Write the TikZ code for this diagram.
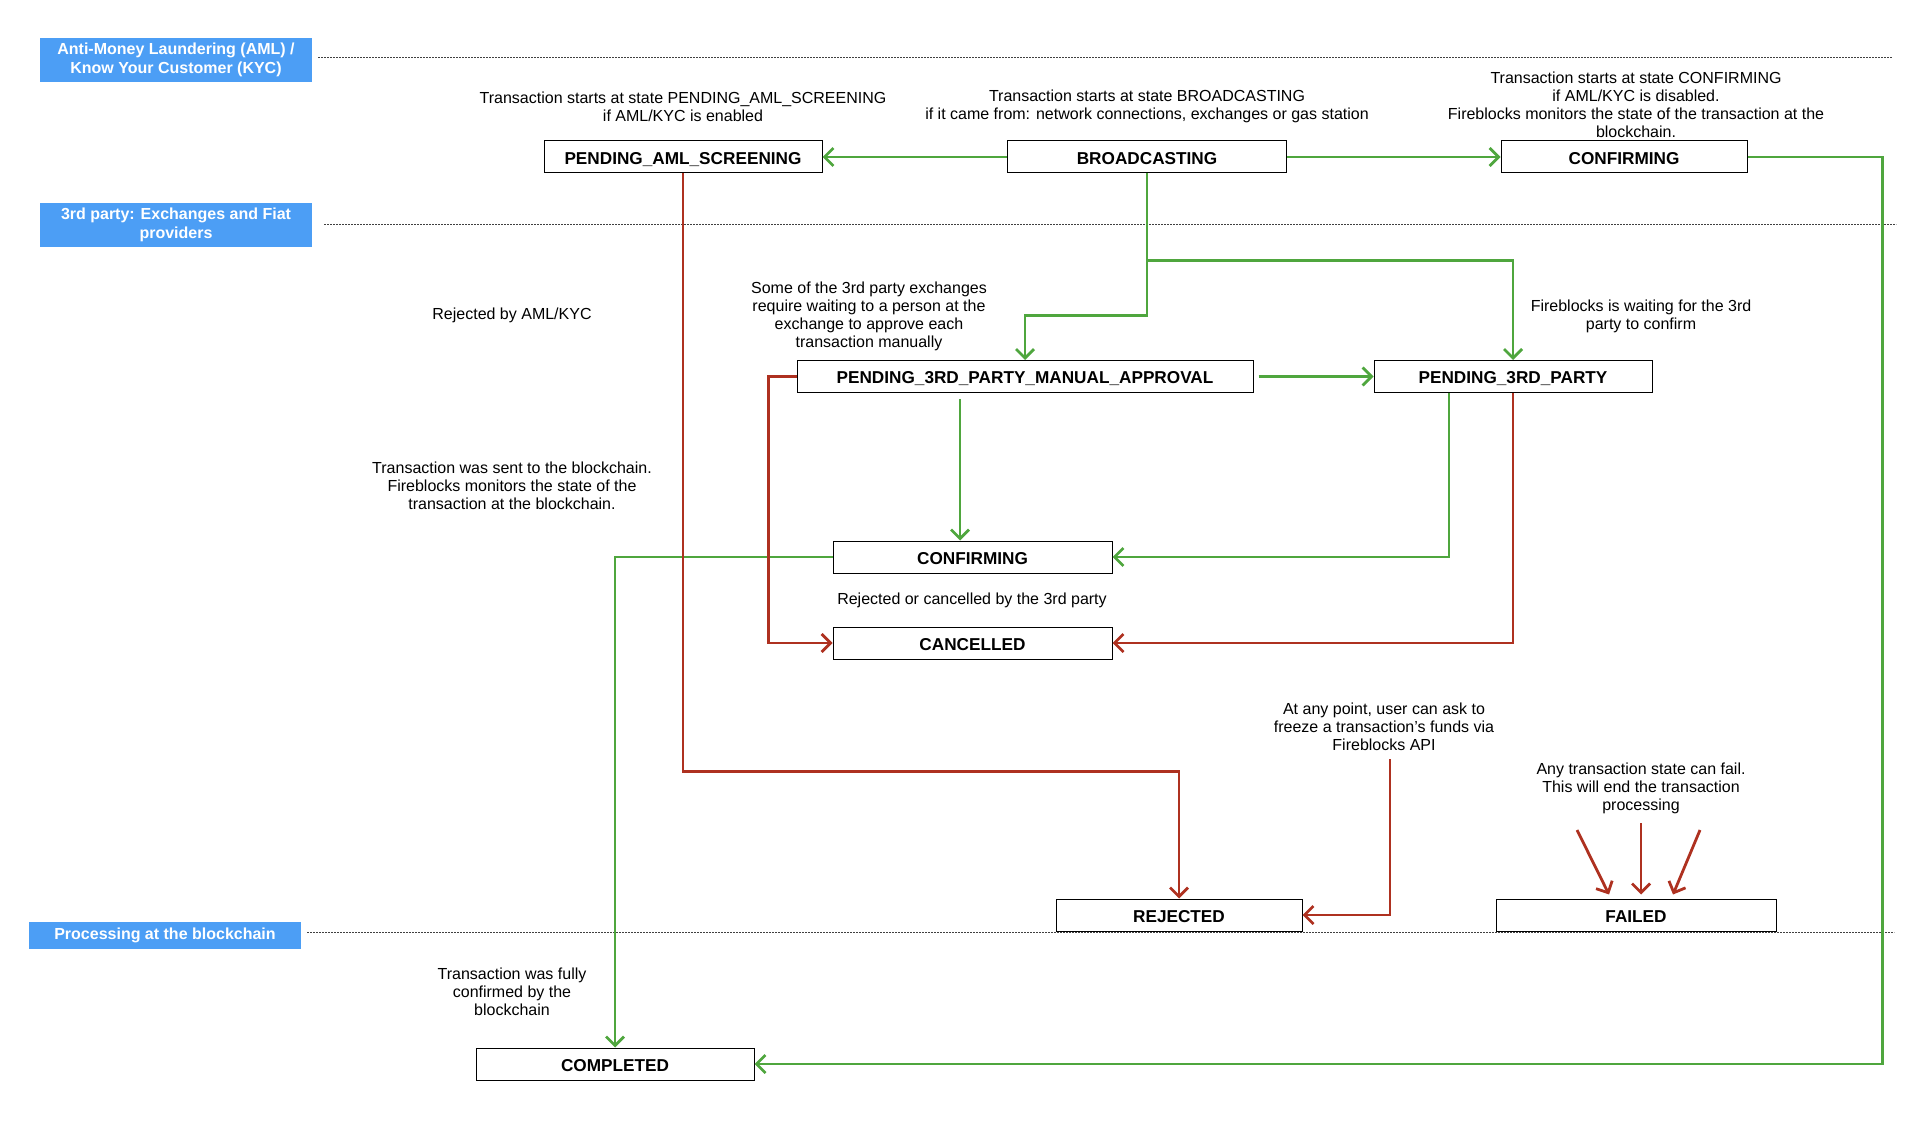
\documentclass[tikz,border=0pt]{standalone}
\usepackage{fontspec}
\setmainfont{Liberation Sans}
\usetikzlibrary{arrows.meta}
\definecolor{lane}{HTML}{4C9EF5}
\definecolor{okg}{HTML}{4FA63E}
\definecolor{bad}{HTML}{AE3120}
\begin{document}
\begin{tikzpicture}[x=0.5pt,y=-0.5pt,
  state/.style={draw=black,line width=0.5pt,fill=white,minimum height=16pt,inner sep=0pt,text height=7.2pt,text depth=0pt,font=\fontsize{8.6}{10}\selectfont\bfseries},
  lanelab/.style={fill=lane,text=white,inner sep=0pt,align=center,minimum width=136pt,font=\fontsize{8}{9.5}\selectfont\bfseries},
  note/.style={align=center,inner sep=0pt,font=\fontsize{8}{9}\selectfont},
  gline/.style={draw=okg,line width=1.4pt,-{Straight Barb[length=4.5pt,width=9pt]}},
  rline/.style={draw=bad,line width=1.4pt,-{Straight Barb[length=4.5pt,width=9pt]}},
  lanesep/.style={line width=0.5pt,dash pattern=on 0.6pt off 0.9pt,black!75}
]
\useasboundingbox (0,0) rectangle (1920,1133);

% lane labels
\node[lanelab,minimum height=22pt] (lab1) at (176,60) {Anti-Money Laundering (AML) /\\Know Your Customer (KYC)};
\node[lanelab,minimum height=22pt] (lab2) at (176,225) {3rd party: Exchanges and Fiat\\providers};
\node[lanelab,minimum height=13.5pt] (lab3) at (165,935) {Processing at the blockchain};

\draw[lanesep] ([xshift=3pt]lab1.east |- 0,57.5) -- ++(1574,0);
\draw[lanesep] ([xshift=6pt]lab2.east |- 0,225) -- ++(1572,0);
\draw[lanesep] ([xshift=3pt]lab3.east |- 0,932) -- ++(1587,0);

% states
\node[state,minimum width=139pt] (aml) at (683,157) {PENDING\_AML\_SCREENING};
\node[state,minimum width=139.5pt] (bc) at (1147,157) {BROADCASTING};
\node[state,minimum width=123pt] (conf1) at (1624,157) {CONFIRMING};
\node[state,minimum width=228pt] (manual) at (1025,376.5) {PENDING\_3RD\_PARTY\_MANUAL\_APPROVAL};
\node[state,minimum width=139pt] (p3) at (1513,376.5) {PENDING\_3RD\_PARTY};
\node[state,minimum width=139.5pt] (conf2) at (972.5,557) {CONFIRMING};
\node[state,minimum width=139.5pt] (canc) at (972.5,643) {CANCELLED};
\node[state,minimum width=123pt] (rej) at (1179,915) {REJECTED};
\node[state,minimum width=140pt] (fail) at (1636,915) {FAILED};
\node[state,minimum width=139pt] (comp) at (615,1064) {COMPLETED};

% notes
\node[note] (n1) at (683,106.5) {Transaction starts at state PENDING\_AML\_SCREENING\\if AML/KYC is enabled};
\node[note] (n2) at (1147,106.5) {Transaction starts at state BROADCASTING\\if it came from: network connections, exchanges or gas station};
\node[note] (n3) at (1636,105) {Transaction starts at state CONFIRMING\\if AML/KYC is disabled.\\Fireblocks monitors the state of the transaction at the\\blockchain.};
\node[note] (n4) at (512,315.5) {Rejected by AML/KYC};
\node[note] (n5) at (869,316) {Some of the 3rd party exchanges\\require waiting to a person at the\\exchange to approve each\\transaction manually};
\node[note] (n6) at (1641,316) {Fireblocks is waiting for the 3rd\\party to confirm};
\node[note] (n7) at (512,486) {Transaction was sent to the blockchain.\\Fireblocks monitors the state of the\\transaction at the blockchain.};
\node[note] (n8) at (972,600.5) {Rejected or cancelled by the 3rd party};
\node[note] (n9) at (1384,726.5) {At any point, user can ask to\\freeze a transaction’s funds via\\Fireblocks API};
\node[note] (n10) at (1641,788) {Any transaction state can fail.\\This will end the transaction\\processing};
\node[note] (n11) at (512,992) {Transaction was fully\\confirmed by the\\blockchain};

% free ends
\coordinate (frz) at (1390,759);
\coordinate (f1) at (1577,830);
\coordinate (f2) at (1641,823);
\coordinate (f3) at (1700,830);

% green connectors
\draw[gline] (bc.west) -- (aml.east);
\draw[gline] (bc.east) -- (conf1.west);
\draw[gline] (bc.south) -- ++(0,142) -| (manual.north);
\draw[gline] (bc.south) -- ++(0,87) -| (p3.north);
\draw[gline] ([xshift=2.5pt]manual.east) -- (p3.west);
\draw[gline] ([xshift=-32.5pt,yshift=-3pt]manual.south) -- ([xshift=-32.5pt]manual.south |- conf2.north);
\draw[gline] ([xshift=-32pt]p3.south) |- (conf2.east);
\draw[gline] (conf2.west) -| (comp.north);
\draw[gline] (conf1.east) -- ++(135,0) |- (comp.east);

% red connectors
\draw[rline] (p3.south) |- (canc.east);
\draw[rline] (manual.west) -- ++(-14pt,0) |- (canc.west);
\draw[rline] (aml.south) -- ++(0,598) -| (rej.north);
\draw[rline] (frz) |- (rej.east);
\draw[rline] (f1) -- ([xshift=-13.5pt,yshift=2pt]fail.north);
\draw[rline] (f2) -- ([xshift=2.5pt,yshift=2pt]fail.north);
\draw[rline] (f3) -- ([xshift=18.5pt,yshift=2pt]fail.north);
\end{tikzpicture}
\end{document}
